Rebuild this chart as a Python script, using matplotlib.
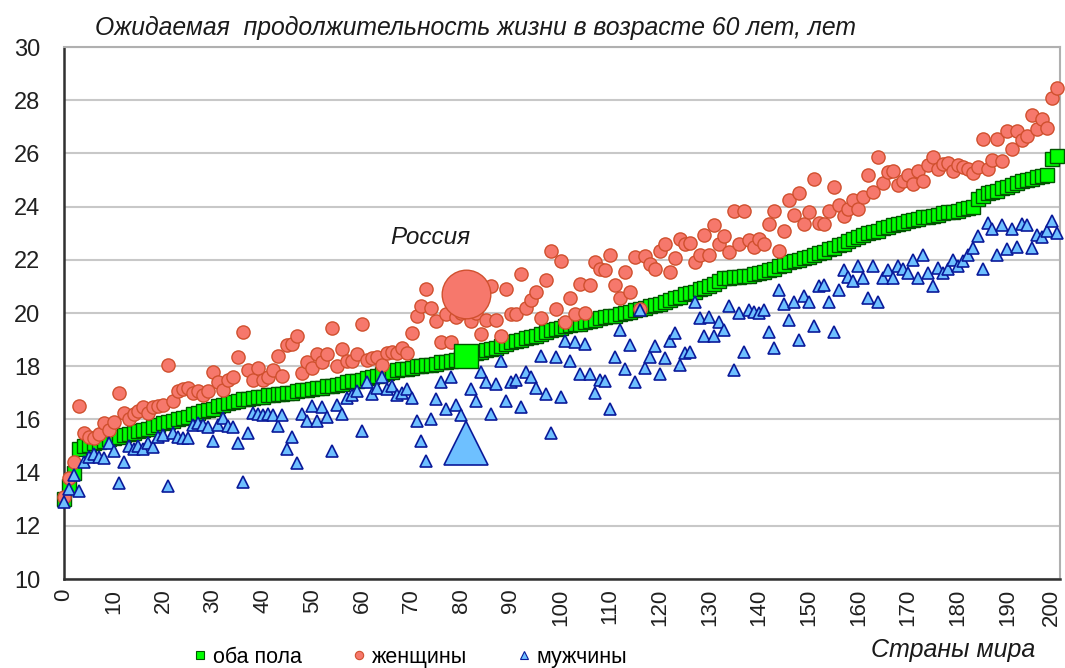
import matplotlib
matplotlib.use("Agg")
import matplotlib.pyplot as plt
import matplotlib.transforms as mtransforms
import numpy as np

# =========================
# Data: life expectancy at age 60, countries sorted by both-sexes value
# =========================
both = [
    13.0, 13.5, 14.0, 14.9, 15.0, 15.05, 15.1, 15.15, 15.2, 15.25,
    15.3, 15.35, 15.4, 15.45, 15.5, 15.55, 15.6, 15.65, 15.7, 15.8,
    15.85, 15.9, 15.95, 16.0, 16.05, 16.1, 16.2, 16.25, 16.3, 16.35,
    16.4, 16.5, 16.55, 16.6, 16.65, 16.7, 16.75, 16.75, 16.8, 16.85,
    16.85, 16.9, 16.9, 16.95, 16.95, 17.0, 17.0, 17.05, 17.1, 17.1,
    17.15, 17.2, 17.2, 17.25, 17.25, 17.3, 17.35, 17.4, 17.45, 17.45,
    17.5, 17.55, 17.6, 17.65, 17.7, 17.75, 17.8, 17.85, 17.9, 17.9,
    17.95, 18.0, 18.0, 18.05, 18.05, 18.1, 18.15, 18.15, 18.2, 18.25,
    18.3, 18.4, 18.45, 18.5, 18.55, 18.6, 18.65, 18.7, 18.75, 18.85,
    18.9, 18.95, 19.0, 19.05, 19.1, 19.15, 19.2, 19.3, 19.35, 19.4,
    19.45, 19.5, 19.55, 19.6, 19.6, 19.65, 19.7, 19.75, 19.8, 19.85,
    19.9, 19.9, 19.95, 20.0, 20.05, 20.1, 20.15, 20.2, 20.25, 20.3,
    20.35, 20.4, 20.5, 20.55, 20.6, 20.7, 20.75, 20.8, 20.9, 20.95,
    21.0, 21.1, 21.2, 21.3, 21.3, 21.35, 21.35, 21.4, 21.4, 21.45,
    21.5, 21.55, 21.6, 21.65, 21.75, 21.8, 21.9, 21.95, 22.0, 22.05,
    22.1, 22.2, 22.25, 22.3, 22.4, 22.45, 22.55, 22.6, 22.7, 22.8,
    22.85, 22.95, 23.0, 23.05, 23.1, 23.2, 23.25, 23.3, 23.35, 23.4,
    23.45, 23.5, 23.55, 23.6, 23.6, 23.65, 23.7, 23.75, 23.8, 23.8,
    23.85, 23.9, 23.95, 24.0, 24.3, 24.4, 24.5, 24.55, 24.6, 24.7,
    24.75, 24.8, 24.9, 24.95, 25.0, 25.05, 25.1, 25.15, 25.2, 25.8,
    25.9,
]

women = [
    13.1, 13.8, 14.4, 16.5, 15.5, 15.35, 15.3, 15.45, 15.85, 15.6,
    15.9, 17.0, 16.25, 16.0, 16.2, 16.3, 16.45, 16.25, 16.45, 16.5,
    16.55, 18.05, 16.7, 17.05, 17.15, 17.2, 17.0, 17.05, 16.9, 17.05,
    17.8, 17.4, 17.1, 17.5, 17.6, 18.35, 19.3, 17.85, 17.5, 17.95,
    17.5, 17.6, 17.85, 18.4, 17.65, 18.8, 18.85, 19.15, 17.75, 18.15,
    17.95, 18.45, 18.15, 18.45, 19.45, 18.0, 18.65, 18.2, 18.2, 18.45,
    19.6, 18.25, 18.3, 18.35, 18.05, 18.5, 18.55, 18.5, 18.7, 18.5,
    19.25, 19.9, 20.25, 20.9, 20.2, 19.7, 18.9, 19.95, 18.9, 19.85,
    20.0, 20.7, 19.7, 20.0, 19.2, 19.75, 21.0, 19.75, 19.15, 20.9,
    19.95, 19.95, 21.45, 20.2, 20.5, 20.8, 19.8, 21.25, 22.35, 20.15,
    21.95, 19.65, 20.55, 19.95, 21.1, 20.0, 21.05, 21.9, 21.65, 21.6,
    22.2, 21.05, 20.55, 21.55, 20.8, 22.1, 20.15, 22.15, 21.85, 21.65,
    22.35, 22.6, 21.55, 22.05, 22.8, 22.6, 22.65, 21.9, 22.2, 22.95,
    22.2, 23.3, 22.6, 22.9, 22.3, 23.85, 22.6, 23.85, 22.75, 22.5,
    22.8, 22.6, 23.35, 23.85, 22.35, 23.1, 24.25, 23.7, 24.5, 23.35,
    23.8, 25.05, 23.4, 23.35, 23.85, 24.75, 24.05, 23.65, 23.9, 24.25,
    23.9, 24.35, 25.2, 24.55, 25.85, 24.9, 25.3, 25.35, 24.8, 24.95,
    25.2, 24.85, 25.35, 24.95, 25.55, 25.85, 25.4, 25.6, 25.65, 25.35,
    25.55, 25.5, 25.4, 25.25, 25.5, 26.55, 25.4, 25.75, 26.55, 25.7,
    26.85, 26.15, 26.85, 26.5, 26.65, 27.45, 26.9, 27.3, 26.95, 28.1,
    28.45,
]

men = [
    12.9, 13.4, 13.9, 13.3, 14.4, 14.6, 14.7, 14.6, 14.55, 15.1,
    14.8, 13.6, 14.4, 15.0, 14.9, 15.0, 14.9, 15.1, 14.95, 15.35,
    15.4, 13.5, 15.5, 15.35, 15.3, 15.3, 15.8, 15.85, 15.8, 15.7,
    15.2, 15.8, 16.05, 15.75, 15.7, 15.1, 13.65, 15.5, 16.25, 16.2,
    16.15, 16.2, 16.15, 15.75, 16.15, 14.9, 15.35, 14.35, 16.2, 15.95,
    16.5, 15.95, 16.45, 16.1, 14.8, 16.55, 16.2, 16.8, 16.9, 17.05,
    15.55, 17.4, 16.95, 17.2, 17.6, 17.15, 17.25, 16.9, 17.0, 17.15,
    16.8, 15.95, 15.2, 14.45, 16.0, 16.75, 17.4, 16.4, 17.6, 16.55,
    16.15, 15.1, 17.15, 16.7, 17.8, 17.4, 16.2, 17.35, 18.2, 16.7,
    17.4, 17.5, 16.45, 17.8, 17.6, 17.2, 18.4, 16.95, 15.5, 18.35,
    16.85, 18.95, 18.2, 18.9, 17.7, 18.85, 17.7, 17.0, 17.5, 17.45,
    16.4, 18.35, 19.35, 17.9, 18.8, 17.4, 20.1, 17.95, 18.35, 18.75,
    17.7, 18.3, 18.95, 19.25, 18.05, 18.5, 18.55, 20.4, 19.8, 19.15,
    19.85, 19.15, 19.65, 19.35, 20.25, 17.85, 20.0, 18.55, 20.1, 20.05,
    20.0, 20.1, 19.3, 18.7, 20.85, 20.35, 19.75, 20.4, 19.0, 20.65,
    20.4, 19.5, 21.0, 21.05, 20.4, 19.3, 20.85, 21.6, 21.35, 21.2,
    21.75, 21.3, 20.55, 21.75, 20.4, 21.3, 21.6, 21.3, 21.75, 21.65,
    21.5, 22.0, 21.3, 22.2, 21.5, 21.0, 21.7, 21.5, 21.65, 22.0,
    21.75, 21.95, 22.2, 22.45, 22.9, 21.65, 23.4, 23.15, 22.2, 23.3,
    22.4, 23.15, 22.5, 23.35, 23.3, 22.45, 22.95, 22.85, 23.1, 23.45,
    23.0,
]

russia_idx = 81
russia = {"both": 18.4, "women": 20.7, "men": 15.1}

x = np.arange(len(both))

# =========================
# Plot
# =========================
plt.rcParams["font.family"] = ["Liberation Sans", "DejaVu Sans"]

fig = plt.figure(figsize=(10.65, 6.68), dpi=100)
ax = fig.add_axes([0.0601, 0.1332, 0.9352, 0.7964])

ax.set_xlim(0, 200.6)
ax.set_ylim(10, 30)
ax.set_yticks(np.arange(10, 31, 2))
ax.set_xticks(np.arange(0, 201, 10))
ax.set_xticklabels([str(v) for v in range(0, 201, 10)], rotation=90)
ax.tick_params(axis="both", length=0, colors="#202020")
ax.tick_params(axis="x", pad=7, labelsize=16)
ax.tick_params(axis="y", pad=17, labelsize=17)
ax.grid(axis="y", color="#c8c8c8", linewidth=1.5)
ax.set_axisbelow(True)

# nudge the last x label so it stays inside the picture
last = ax.get_xticklabels()[-1]
last.set_transform(last.get_transform() +
                   mtransforms.ScaledTranslation(-4 / 72, 0, fig.dpi_scale_trans))

for side in ["top", "right"]:
    ax.spines[side].set_color("#b0b0b0")
    ax.spines[side].set_linewidth(1.5)
for side in ["left", "bottom"]:
    ax.spines[side].set_color("#303030")
    ax.spines[side].set_linewidth(1.8)

ax.plot(x, both, "s", ms=9.5, mfc="#00ff00", mec="#005500", mew=1.0,
        clip_on=False, zorder=3)
ax.plot(x, women, "o", ms=9.5, mfc="#f6786c", mec="#d0502e", mew=1.0,
        clip_on=False, zorder=4)
ax.plot(x, men, "^", ms=9, mfc="#6ec0ff", mec="#0a1a9a", mew=1.2,
        clip_on=False, zorder=5)

# Russia highlighted
ax.plot(russia_idx, russia["women"], "o", ms=35, mfc="#f6786c", mec="#d0502e",
        mew=1.0, zorder=6)
ax.plot(russia_idx, russia["both"], "s", ms=17, mfc="#00ff00", mec="#005500",
        mew=1.0, zorder=6)
ax.plot(russia_idx, russia["men"], "^", ms=31, mfc="#6ec0ff", mec="#0a1a9a",
        mew=1.2, zorder=6)
ax.text(73.7, 22.85, "Россия", fontsize=17.5, style="italic", color="#1a1a1a",
        ha="center", va="center")

fig.text(0.089, 0.958, "Ожидаемая  продолжительность жизни в возрасте 60 лет, лет",
         fontsize=17.8, style="italic", color="#1a1a1a", ha="left", va="center")
fig.text(0.895, 0.027, "Страны мира", fontsize=18, style="italic",
         color="#1a1a1a", ha="center", va="center")

# legend
h1, = ax.plot([], [], "s", ms=6, mfc="#00ff00", mec="#005500", mew=0.8)
h2, = ax.plot([], [], "o", ms=6, mfc="#f6786c", mec="#d0502e", mew=0.8)
h3, = ax.plot([], [], "^", ms=6, mfc="#6ec0ff", mec="#0a1a9a", mew=0.8)
fig.legend([h1, h2, h3], ["оба пола", "женщины", "мужчины"],
           loc="center", bbox_to_anchor=(0.384, 0.016), ncol=3, frameon=False,
           fontsize=15.5, handletextpad=0.15, columnspacing=2.2, handlelength=0.9)

fig.savefig("out.png", dpi=100)
